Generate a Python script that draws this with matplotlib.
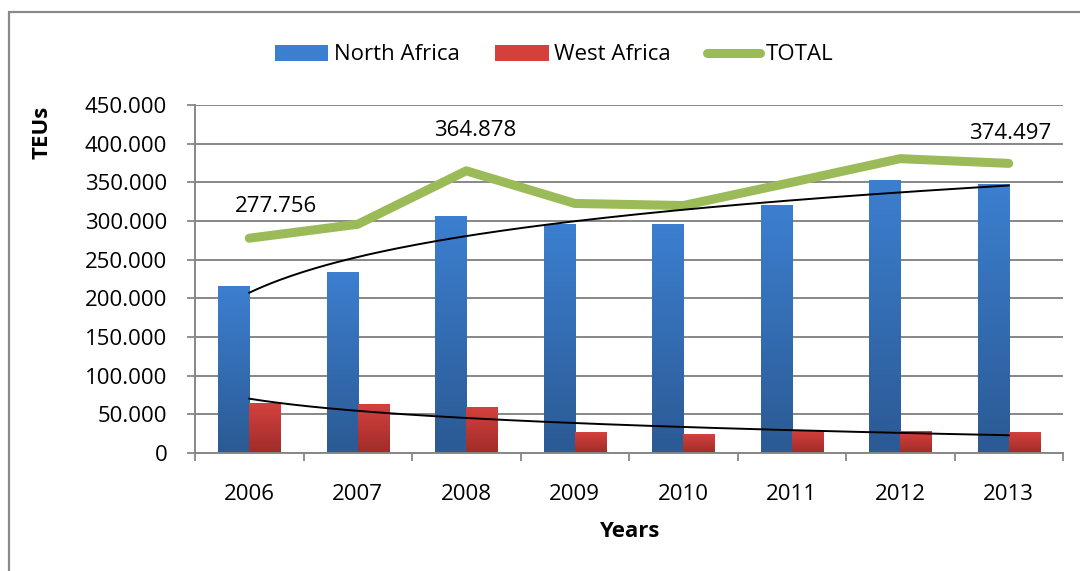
import matplotlib
matplotlib.use("Agg")
import matplotlib.pyplot as plt
import numpy as np
from matplotlib.lines import Line2D
from matplotlib.patches import Patch, Rectangle
from matplotlib.colors import to_rgb
from matplotlib.ticker import FuncFormatter

plt.rcParams['font.family'] = ['Open Sans', 'DejaVu Sans']

# data (TEUs)
years = ['2006', '2007', '2008', '2009', '2010', '2011', '2012', '2013']
north_africa = [214700, 232800, 305200, 296000, 296000, 320000, 353000, 347400]
west_africa = [64200, 63000, 59000, 26700, 24000, 29700, 27600, 26700]
total = [277756, 295800, 364878, 322700, 320000, 350000, 380600, 374497]
labelled = {0: '277.756', 2: '364.878', 7: '374.497'}

GRID = '#878787'
GREEN = '#9bbb59'
BLUE_TOP, BLUE_BOT = '#3c7fd0', '#2b5a94'
RED_TOP, RED_BOT = '#d4413d', '#a02c2a'


def fmt(v, pos=None):
    if v == 0:
        return '0'
    return f'{int(round(v)):,}'.replace(',', '.')


def gradient_bars(ax, bars, top, bot):
    c0, c1 = np.array(to_rgb(bot)), np.array(to_rgb(top))
    t = np.linspace(0, 1, 64)[:, None, None]
    img = c0 + (c1 - c0) * t
    for b in bars:
        x0, y0 = b.get_x(), b.get_y()
        ax.imshow(img, extent=[x0, x0 + b.get_width(), y0, y0 + b.get_height()],
                  origin='lower', aspect='auto', interpolation='bilinear', zorder=2)
        b.set_visible(False)


fig = plt.figure(figsize=(10.8, 5.71), dpi=100)
ax = fig.add_axes([195 / 1080, 1 - 453 / 571, 868 / 1080, 348 / 571])

x = np.arange(len(years))
w = 0.286
nb = ax.bar(x - w / 2, north_africa, w, color=BLUE_TOP)
wb = ax.bar(x + w / 2, west_africa, w, color=RED_TOP)
gradient_bars(ax, nb, BLUE_TOP, BLUE_BOT)
gradient_bars(ax, wb, RED_TOP, RED_BOT)

ax.plot(x, total, color=GREEN, lw=6.5, solid_capstyle='round',
        solid_joinstyle='round', zorder=4)

# logarithmic trend lines, as Excel draws them
lx = np.log(x + 1)
xs = np.linspace(0, len(years) - 1, 200)
for series in (north_africa, west_africa):
    a, b = np.polyfit(lx, series, 1)
    ax.plot(xs, a * np.log(xs + 1) + b, color='black', lw=1.4, zorder=5)

offsets = {0: (27, 32), 2: (9, 40), 7: (1, 30)}
for i, txt in labelled.items():
    ax.annotate(txt, (x[i], total[i]), xytext=offsets[i], textcoords='offset pixels',
                ha='center', va='center', fontsize=16, zorder=6)

ax.set_xlim(-0.5, len(years) - 0.5)
ax.set_ylim(0, 450000)
ax.set_yticks(np.arange(0, 450001, 50000))
ax.yaxis.set_major_formatter(FuncFormatter(fmt))
ax.set_xticks(x)
ax.set_xticklabels(years)
ax.set_xticks(np.arange(-0.5, len(years)), minor=True)
ax.tick_params(axis='x', which='major', length=0, pad=22, labelsize=16)
ax.tick_params(axis='x', which='minor', length=6, width=1.3, color=GRID, direction='out')
ax.tick_params(axis='y', length=6, width=1.3, color=GRID, pad=14, labelsize=16)
ax.yaxis.grid(True, color=GRID, lw=1.4)
ax.set_axisbelow(True)
for s in ('top', 'right'):
    ax.spines[s].set_visible(False)
for s in ('left', 'bottom'):
    ax.spines[s].set_color(GRID)
    ax.spines[s].set_linewidth(1.4)

ax.set_xlabel('Years', fontsize=16, fontweight='bold', labelpad=12)
fig.text(42 / 1080, 1 - 132 / 571, 'TEUs', rotation=90, ha='center', va='center',
         fontsize=16, fontweight='bold')

handles = [Patch(facecolor=BLUE_TOP, edgecolor='none'),
           Patch(facecolor=RED_TOP, edgecolor='none'),
           Line2D([], [], color=GREEN, lw=6.5, solid_capstyle='round')]
fig.legend(handles, ['North Africa', 'West Africa', 'TOTAL'], ncol=3,
           loc='center', bbox_to_anchor=(554 / 1080, 1 - 55 / 571), frameon=False,
           fontsize=16, handlelength=2.4, handleheight=0.7, handletextpad=0.25,
           columnspacing=1.6)

# outer chart border (runs off the right and bottom edges)
fig.patches.append(Rectangle((9 / 1080, -0.05), 1.1, 1.05 - 12 / 571,
                             transform=fig.transFigure, fill=False,
                             edgecolor='#8a8a8a', lw=1.6))

fig.savefig('out.png', dpi=100)
